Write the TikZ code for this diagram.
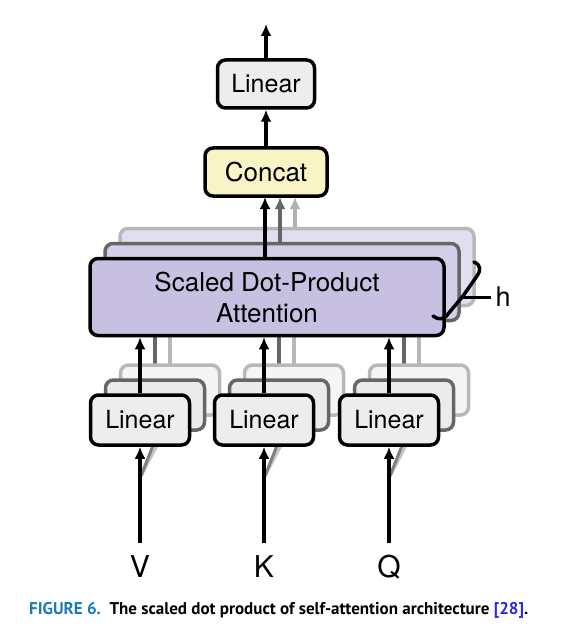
\documentclass[tikz,border=0pt]{standalone}
\usepackage{fontspec}
\setmainfont{TeX Gyre Heros}
\newfontfamily\capfont{PT Sans}
\usetikzlibrary{arrows.meta}
\definecolor{linfill}{HTML}{ECEEEC}
\definecolor{catfill}{HTML}{F8F4C6}
\definecolor{attfill}{HTML}{C8C0E1}
\definecolor{attfillb}{HTML}{D4CEE8}
\definecolor{attfillc}{HTML}{E2DEF0}
\definecolor{figblue}{HTML}{1C78B8}
\definecolor{refblue}{HTML}{2A2AE0}
\tikzset{
  box/.style={draw=black, line width=3.5pt, rounded corners=8pt, inner sep=0pt, font=\fontsize{25}{28}\selectfont},
  linbox/.style={box, fill=linfill, minimum width=99pt, minimum height=50pt},
  copyb/.style={draw=black!60, fill=white!92!black, line width=3.5pt, rounded corners=8pt, inner sep=0pt},
  copyc/.style={draw=black!28, fill=white!96!black, line width=3.5pt, rounded corners=8pt, inner sep=0pt},
  arr/.style={line width=3.5pt, -{Latex[length=12pt,width=11pt]}},
  arrb/.style={arr, draw=black!60},
  arrc/.style={arr, draw=black!30},
  shad/.style={line width=3pt},
  lbl/.style={font=\fontsize{30}{32}\selectfont, inner sep=0pt}
}
\begin{document}
\begin{tikzpicture}[x=1pt,y=-1pt]
\useasboundingbox (0,0) rectangle (572,639);
% ---- Attention copies
\node[copyc, fill=attfillc, minimum width=354pt, minimum height=77pt] (attc) at (297,267) {};
\node[copyb, fill=attfillb, minimum width=354pt, minimum height=77pt] (attb) at (282,282) {};
% ---- gray connectors from Linear copies to Attention copies
\foreach \cx in {140,264,389}{
  \draw[line width=3.5pt, black!28] (\cx+30,365) -- (\cx+30,305);
  \draw[line width=3.5pt, black!60] (\cx+15,380) -- (\cx+15,320);
}
% ---- Attention front
\node[box, fill=attfill, minimum width=354pt, minimum height=77pt, align=center, font=\fontsize{26}{31}\selectfont] (att) at (267,297) {Scaled Dot-Product\\Attention};
% ---- input shadows
\foreach \cx in {140,264,389}{
  \draw[shad, black!22] (\cx+1,476) -- (\cx+22,436);
  \draw[shad, black!50] (\cx+1,476) -- (\cx+16,438);
}
% ---- Linear copies and fronts
\node[copyc, minimum width=99pt, minimum height=50pt] (l1c) at (170,390) {};
\node[copyb, minimum width=99pt, minimum height=50pt] (l1b) at (155,405) {};
\node[linbox] (l1) at (140,420) {Linear};
\node[copyc, minimum width=99pt, minimum height=50pt] (l2c) at (294,390) {};
\node[copyb, minimum width=99pt, minimum height=50pt] (l2b) at (279,405) {};
\node[linbox] (l2) at (264,420) {Linear};
\node[copyc, minimum width=99pt, minimum height=50pt] (l3c) at (419,390) {};
\node[copyb, minimum width=99pt, minimum height=50pt] (l3b) at (404,405) {};
\node[linbox] (l3) at (389,420) {Linear};
% ---- Concat and top Linear
\node[box, fill=catfill, minimum width=122pt, minimum height=48pt, font=\fontsize{26}{28}\selectfont] (cat) at (266,172) {Concat};
\node[linbox, minimum width=97pt, minimum height=48pt] (lin) at (266,84) {Linear};
\coordinate (out) at (266,24);
% ---- labels
\node[lbl] (V) at (140,567) {V};
\node[lbl] (K) at (264,567) {K};
\node[lbl] (Q) at (389,567) {Q};
\coordinate (inV) at (140,543);
\coordinate (inK) at (264,543);
\coordinate (inQ) at (389,543);
% ---- arrows
\draw[arr] (inV) -- (l1.south);
\draw[arr] (inK) -- (l2.south);
\draw[arr] (inQ) -- (l3.south);
\draw[arr] (l1.north) -- (l1.north |- att.south);
\draw[arr] (l2.north) -- (l2.north |- att.south);
\draw[arr] (l3.north) -- (l3.north |- att.south);
\draw[arrc] (attc.north -| 295,0) -- (295,197);
\draw[arrb] (attb.north -| 280,0) -- (280,197);
\draw[arr] (att.north -| 265,0) -- (265,197);
\draw[arr] (cat.north) -- (lin.south);
\draw[arr] (lin.north) -- (out);
% ---- brace and h
\draw[line width=3.5pt, line cap=round, line join=round] (474,262) .. controls (481,265) and (481,270) .. (477,276) -- (463,296) -- (448,314) .. controls (444,320) and (438,320) .. (433,316);
\coordinate (hs) at (463,297);
\node[font=\fontsize{27}{29}\selectfont, inner sep=0pt] (h) at (503,297) {h};
\draw[line width=3pt] (hs) -- ([xshift=-4pt]h.west);
% ---- caption
\node[anchor=west, inner sep=0pt, font=\capfont\bfseries\fontsize{17}{19}\selectfont] (cap) at (29,610) {\textcolor{figblue}{FIGURE 6.}\ \ The scaled dot product of self-attention architecture \textcolor{refblue}{[28]}.};
\end{tikzpicture}
\end{document}
